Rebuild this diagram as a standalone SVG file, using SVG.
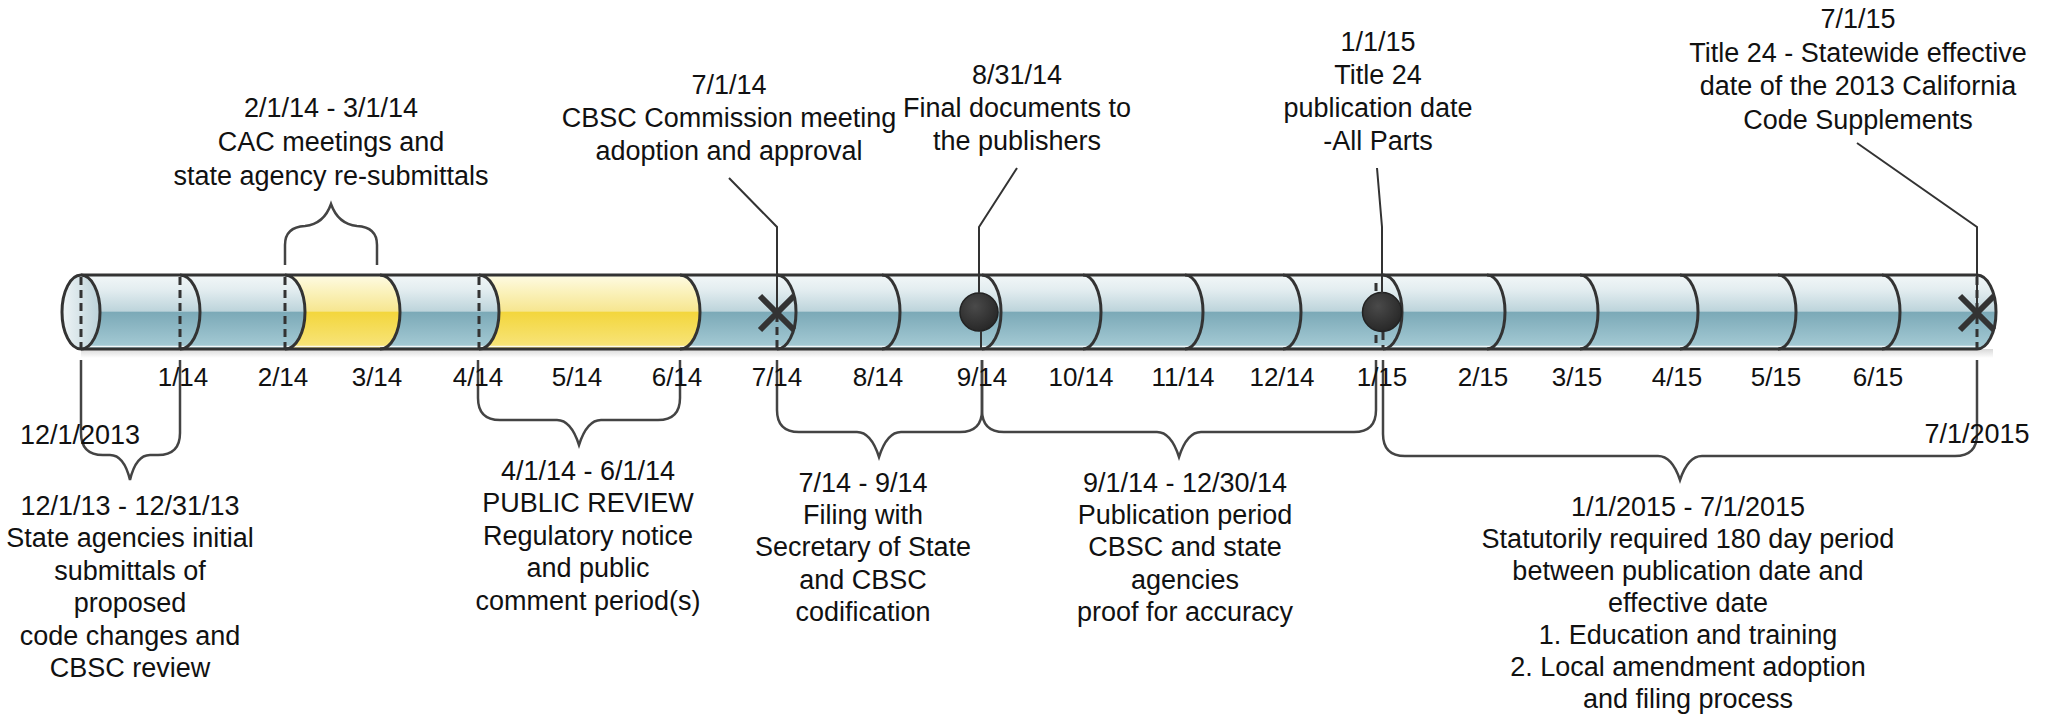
<svg xmlns="http://www.w3.org/2000/svg" width="2046" height="716" viewBox="0 0 2046 716">
<defs>
<linearGradient id="gTube" gradientUnits="userSpaceOnUse" x1="0" y1="275" x2="0" y2="349">
<stop offset="0" stop-color="#f2f7f8"/>
<stop offset="0.2" stop-color="#e3edf0"/>
<stop offset="0.49" stop-color="#bdd4db"/>
<stop offset="0.5" stop-color="#7ba9b7"/>
<stop offset="1" stop-color="#a7ccd6"/>
</linearGradient>
<linearGradient id="gYel" gradientUnits="userSpaceOnUse" x1="0" y1="275" x2="0" y2="349">
<stop offset="0" stop-color="#fefbe4"/>
<stop offset="0.2" stop-color="#fbf3c0"/>
<stop offset="0.49" stop-color="#f6e690"/>
<stop offset="0.5" stop-color="#f3d63c"/>
<stop offset="1" stop-color="#f8e57e"/>
</linearGradient>
<linearGradient id="gCap" x1="0" y1="0" x2="1" y2="0">
<stop offset="0" stop-color="#eef4f6"/>
<stop offset="1" stop-color="#bcd2d9"/>
</linearGradient>
<linearGradient id="gShadow" gradientUnits="userSpaceOnUse" x1="0" y1="349" x2="0" y2="358">
<stop offset="0" stop-color="#d8d8d8"/>
<stop offset="1" stop-color="#ffffff"/>
</linearGradient>
<radialGradient id="gDot" cx="0.4" cy="0.35" r="0.7">
<stop offset="0" stop-color="#4a4a4a"/>
<stop offset="1" stop-color="#262626"/>
</radialGradient>
<style>
.t{font-family:"Liberation Sans",Arial,sans-serif;font-size:27px;fill:#111;text-anchor:middle}
.tick{font-family:"Liberation Sans",Arial,sans-serif;font-size:26px;fill:#111;text-anchor:middle}
.edge{stroke:#333;stroke-width:3;fill:none}
.dash{stroke:#333;stroke-width:3;stroke-dasharray:8 5;fill:none}
.brace{stroke:#444;stroke-width:2.5;fill:none}
.conn{stroke:#333;stroke-width:2;fill:none}
.xmark{stroke:#333;stroke-width:6;fill:none}
</style>
</defs>

<g id="tube">
<rect x="81" y="349" width="1912" height="9" fill="url(#gShadow)"/>
<rect x="81" y="275" width="1896" height="74" fill="url(#gTube)"/>
<path d="M1977 275 A19 37 0 0 1 1977 349 Z" fill="url(#gTube)"/>
<path d="M285 275 A20 37 0 0 1 285 349 L380 349 A20 37 0 0 0 380 275 Z" fill="url(#gYel)"/>
<path d="M479 275 A20 37 0 0 1 479 349 L680 349 A20 37 0 0 0 680 275 Z" fill="url(#gYel)"/>
<line x1="81" y1="346.5" x2="1977" y2="346.5" stroke="#ffffff" stroke-width="1.5" opacity="0.85"/>
<line class="edge" x1="81" y1="275" x2="1977" y2="275"/>
<line class="edge" x1="81" y1="349" x2="1977" y2="349"/>
<path class="edge" d="M1977 275 A19 37 0 0 1 1977 349"/>
<ellipse cx="81" cy="312" rx="19" ry="37" fill="url(#gCap)" stroke="#333" stroke-width="3"/>
<path class="edge" d="M180 275 A20 37 0 0 1 180 349 M285 275 A20 37 0 0 1 285 349 M380 275 A20 37 0 0 1 380 349 M479 275 A20 37 0 0 1 479 349 M680 275 A20 37 0 0 1 680 349 M777 275 A19 37 0 0 1 777 349 M882 275 A18 37 0 0 1 882 349 M982 275 A19 37 0 0 1 982 349 M1083 275 A18 37 0 0 1 1083 349 M1185 275 A18 37 0 0 1 1185 349 M1283 275 A18 37 0 0 1 1283 349 M1383 275 A19 37 0 0 1 1383 349 M1487 275 A18 37 0 0 1 1487 349 M1580 275 A18 37 0 0 1 1580 349 M1680 275 A18 37 0 0 1 1680 349 M1778 275 A18 37 0 0 1 1778 349 M1882 275 A18 37 0 0 1 1882 349"/>
<path class="dash" d="M81 277 V349 M180 277 V349 M285 277 V349 M479 277 V349 M777 314 V349 M1376 283 V349 M1383 332 V349 M1977 277 V349"/>
</g>

<g id="markers">
<g id="x-7-1-14"><path class="xmark" d="M760 296 L794 330 M760 330 L794 296"/></g>
<g id="dot-8-31-14"><circle cx="979" cy="312" r="19" fill="url(#gDot)" stroke="#222" stroke-width="1.5"/></g>
<g id="dot-1-1-15"><circle cx="1382" cy="312" r="19.5" fill="url(#gDot)" stroke="#222" stroke-width="1.5"/></g>
<g id="x-7-1-15"><path class="xmark" d="M1960 296 L1994 330 M1960 330 L1994 296"/></g>
</g>

<g id="connectors">
<path class="conn" d="M729 178 L777 227 V312"/>
<path class="conn" d="M1017 168 L979 227 V293 M981 331 V349"/>
<path class="conn" d="M1377 168 L1382 227 V293"/>
<path class="conn" d="M1857 143 L1977 227 V312"/>
<path class="brace" d="M285 265 V245 Q285 227 305 226 Q324 224 331 204 Q338 224 357 226 Q377 227 377 245 V265"/>
<path class="brace" d="M81 360 V433 Q81 455 103 455 H110 Q124 455 130 480 Q136 455 150 455 H158 Q180 455 180 433 V360"/>
<path class="brace" d="M478 360 V398 Q478 420 500 420 H557 Q571 420 579 445 Q587 420 601 420 H658 Q680 420 680 398 V360"/>
<path class="brace" d="M777 360 V410 Q777 432 799 432 H857 Q871 432 879 457 Q887 432 901 432 H960 Q982 432 982 410 V360"/>
<path class="brace" d="M982 360 V410 Q982 432 1004 432 H1157 Q1171 432 1179 457 Q1187 432 1201 432 H1354 Q1376 432 1376 410 V360"/>
<path class="brace" d="M1383 360 V434 Q1383 456 1405 456 H1658 Q1672 456 1680 480 Q1688 456 1702 456 H1955 Q1977 456 1977 434 V360"/>
</g>

<g id="ticks">
<text class="tick" x="183" y="386">1/14</text>
<text class="tick" x="283" y="386">2/14</text>
<text class="tick" x="377" y="386">3/14</text>
<text class="tick" x="478" y="386">4/14</text>
<text class="tick" x="577" y="386">5/14</text>
<text class="tick" x="677" y="386">6/14</text>
<text class="tick" x="777" y="386">7/14</text>
<text class="tick" x="878" y="386">8/14</text>
<text class="tick" x="982" y="386">9/14</text>
<text class="tick" x="1081" y="386">10/14</text>
<text class="tick" x="1183" y="386">11/14</text>
<text class="tick" x="1282" y="386">12/14</text>
<text class="tick" x="1382" y="386">1/15</text>
<text class="tick" x="1483" y="386">2/15</text>
<text class="tick" x="1577" y="386">3/15</text>
<text class="tick" x="1677" y="386">4/15</text>
<text class="tick" x="1776" y="386">5/15</text>
<text class="tick" x="1878" y="386">6/15</text>
</g>

<g id="note-cac">
<text class="t" x="331" y="117"><tspan x="331">2/1/14 - 3/1/14</tspan><tspan x="331" dy="34">CAC meetings and</tspan><tspan x="331" dy="34">state agency re-submittals</tspan></text>
</g>
<g id="note-commission">
<text class="t" x="729" y="94"><tspan x="729">7/1/14</tspan><tspan x="729" dy="33">CBSC Commission meeting</tspan><tspan x="729" dy="33">adoption and approval</tspan></text>
</g>
<g id="note-final">
<text class="t" x="1017" y="84"><tspan x="1017">8/31/14</tspan><tspan x="1017" dy="33">Final documents to</tspan><tspan x="1017" dy="33">the publishers</tspan></text>
</g>
<g id="note-publication">
<text class="t" x="1378" y="51"><tspan x="1378">1/1/15</tspan><tspan x="1378" dy="33">Title 24</tspan><tspan x="1378" dy="33">publication date</tspan><tspan x="1378" dy="33">-All Parts</tspan></text>
</g>
<g id="note-effective">
<text class="t" x="1858" y="28"><tspan x="1858">7/1/15</tspan><tspan x="1858" dy="33.5">Title 24 - Statewide effective</tspan><tspan x="1858" dy="33.5">date of the 2013 California</tspan><tspan x="1858" dy="33.5">Code Supplements</tspan></text>
</g>

<g id="label-start"><text class="t" x="80" y="444">12/1/2013</text></g>
<g id="label-end"><text class="t" x="1977" y="443">7/1/2015</text></g>

<g id="period-submittals">
<text class="t" x="130" y="515"><tspan x="130">12/1/13 - 12/31/13</tspan><tspan x="130" dy="32.4">State agencies initial</tspan><tspan x="130" dy="32.4">submittals of</tspan><tspan x="130" dy="32.4">proposed</tspan><tspan x="130" dy="32.4">code changes and</tspan><tspan x="130" dy="32.4">CBSC review</tspan></text>
</g>
<g id="period-public-review">
<text class="t" x="588" y="480"><tspan x="588">4/1/14 - 6/1/14</tspan><tspan x="588" dy="32.4">PUBLIC REVIEW</tspan><tspan x="588" dy="32.4">Regulatory notice</tspan><tspan x="588" dy="32.4">and public</tspan><tspan x="588" dy="32.4">comment period(s)</tspan></text>
</g>
<g id="period-filing">
<text class="t" x="863" y="492"><tspan x="863">7/14 - 9/14</tspan><tspan x="863" dy="32.2">Filing with</tspan><tspan x="863" dy="32.2">Secretary of State</tspan><tspan x="863" dy="32.2">and CBSC</tspan><tspan x="863" dy="32.2">codification</tspan></text>
</g>
<g id="period-publication">
<text class="t" x="1185" y="492"><tspan x="1185">9/1/14 - 12/30/14</tspan><tspan x="1185" dy="32.2">Publication period</tspan><tspan x="1185" dy="32.2">CBSC and state</tspan><tspan x="1185" dy="32.2">agencies</tspan><tspan x="1185" dy="32.2">proof for accuracy</tspan></text>
</g>
<g id="period-statutory">
<text class="t" x="1688" y="516"><tspan x="1688">1/1/2015 - 7/1/2015</tspan><tspan x="1688" dy="32">Statutorily required 180 day period</tspan><tspan x="1688" dy="32">between publication date and</tspan><tspan x="1688" dy="32">effective date</tspan><tspan x="1688" dy="32">1. Education and training</tspan><tspan x="1688" dy="32">2. Local amendment adoption</tspan><tspan x="1688" dy="32">and filing process</tspan></text>
</g>
</svg>
